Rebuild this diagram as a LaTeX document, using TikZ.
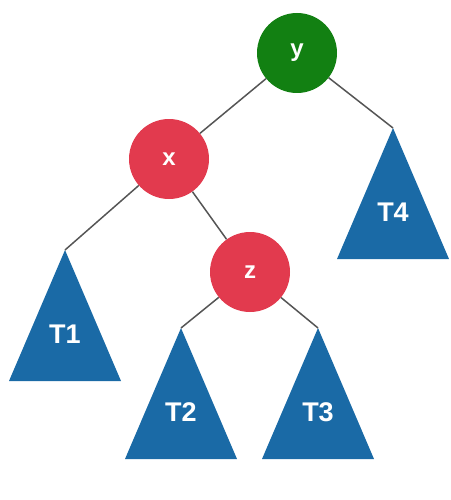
\documentclass[tikz,border=0pt]{standalone}
\usepackage{fontspec}
\setmainfont{Liberation Sans}
\definecolor{rootgreen}{RGB}{18,128,18}
\definecolor{nodered}{RGB}{226,58,78}
\definecolor{treeblue}{RGB}{26,106,166}
\definecolor{edgegray}{RGB}{85,85,85}

\begin{document}
\begin{tikzpicture}[x=1pt,y=-1pt,
    vertex/.style={circle,minimum size=80pt,inner sep=0pt,text=white,
      font=\fontsize{24}{28}\selectfont\bfseries},
    edge/.style={draw=edgegray,line width=1.5pt},
    subtree/.style={fill=treeblue},
    treelabel/.style={text=white,font=\fontsize{27}{32}\selectfont\bfseries}]
  \useasboundingbox (0,0) rectangle (450,500);
  % subtrees, apex coordinate named after the subtree
  \foreach \n/\ax/\ay in {T1/65/250,T2/181/328,T3/318/328,T4/393/128}{
    \coordinate (\n) at (\ax,\ay);
    \fill[subtree] (\n) -- ++(-56,131) -- ++(112,0) -- cycle;
    \node[treelabel] (\n label) at (\ax,\ay+84) {\n};
  }
  % keys
  \node[vertex,fill=rootgreen] (y) at (297,53) {y};
  \node[vertex,fill=nodered] (x) at (169,159) {x};
  \node[vertex,fill=nodered] (z) at (250,272) {z};
  % links
  \draw[edge] (y) -- (x);
  \draw[edge] (y) -- (T4);
  \draw[edge] (x) -- (T1);
  \draw[edge] (x) -- (z);
  \draw[edge] (z) -- (T2);
  \draw[edge] (z) -- (T3);
\end{tikzpicture}
\end{document}
